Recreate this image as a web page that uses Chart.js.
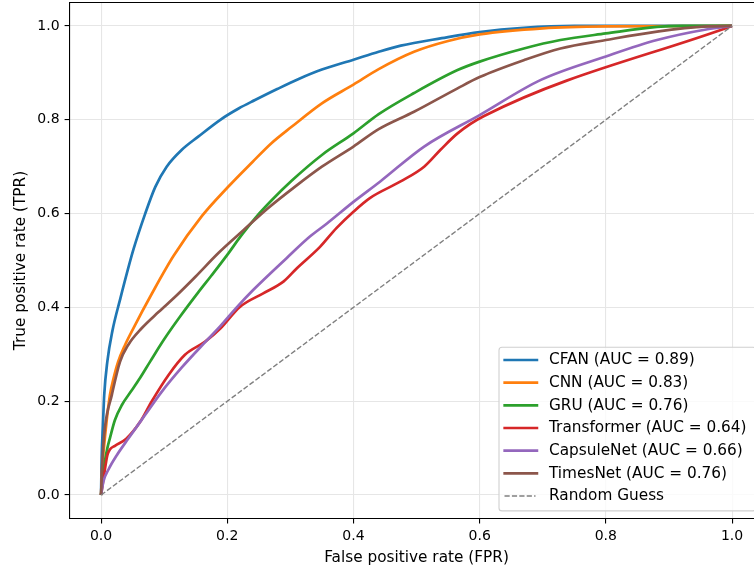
<!DOCTYPE html>
<html>
<head>
<meta charset="utf-8">
<script src="https://cdn.jsdelivr.net/npm/chart.js@4/dist/chart.umd.min.js"></script>
<style>
  html, body { margin: 0; padding: 0; background: #fff; overflow: hidden; }
  #wrap { width: 770px; height: 571px; }
</style>
</head>
<body>
<div id="wrap"><canvas id="roc" width="770" height="571"></canvas></div>
<script>
// ROC curves per model: false positive rate (x) and true positive rate (y)
const modelNames = ['CFAN', 'CNN', 'GRU', 'Transformer', 'CapsuleNet', 'TimesNet'];
const aucValues = [0.89, 0.83, 0.76, 0.64, 0.66, 0.76];
const lineColors = ['#1f77b4', '#ff7f0e', '#2ca02c', '#d62728', '#9467bd', '#8c564b'];

const cfanFpr = [0, 0.001, 0.003, 0.005, 0.01, 0.018, 0.03, 0.051, 0.07, 0.086, 0.104, 0.128, 0.154, 0.189, 0.218, 0.244, 0.28, 0.315, 0.35, 0.4, 0.44, 0.475, 0.54, 0.6, 0.67, 0.75, 1];
const cfanTpr = [0, 0.08, 0.15, 0.213, 0.285, 0.35, 0.416, 0.522, 0.6, 0.657, 0.7, 0.736, 0.764, 0.8, 0.824, 0.842, 0.866, 0.888, 0.907, 0.928, 0.945, 0.958, 0.974, 0.987, 0.996, 1, 1];

const cnnFpr = [0, 0.002, 0.005, 0.009, 0.014, 0.02, 0.027, 0.038, 0.051, 0.08, 0.115, 0.16, 0.2, 0.24, 0.27, 0.302, 0.35, 0.4, 0.44, 0.496, 0.55, 0.6, 0.7, 0.8, 1];
const cnnTpr = [0, 0.06, 0.107, 0.16, 0.213, 0.25, 0.284, 0.32, 0.355, 0.428, 0.51, 0.595, 0.655, 0.71, 0.75, 0.785, 0.835, 0.875, 0.908, 0.945, 0.968, 0.982, 0.995, 0.999, 1];

const gruFpr = [0, 0.003, 0.006, 0.01, 0.014, 0.022, 0.033, 0.047, 0.062, 0.078, 0.1, 0.125, 0.154, 0.175, 0.2, 0.222, 0.244, 0.27, 0.302, 0.35, 0.4, 0.44, 0.496, 0.565, 0.6, 0.67, 0.728, 0.8, 0.881, 0.92, 1];
const gruTpr = [0, 0.04, 0.071, 0.1, 0.121, 0.16, 0.192, 0.22, 0.25, 0.285, 0.332, 0.38, 0.432, 0.468, 0.512, 0.553, 0.59, 0.628, 0.67, 0.725, 0.771, 0.812, 0.857, 0.906, 0.924, 0.952, 0.97, 0.984, 0.998, 1, 1];

const transformerFpr = [0, 0.005, 0.01, 0.014, 0.022, 0.04, 0.062, 0.08, 0.107, 0.133, 0.165, 0.189, 0.22, 0.257, 0.289, 0.31, 0.347, 0.373, 0.4, 0.426, 0.474, 0.512, 0.538, 0.565, 0.607, 1];
const transformerTpr = [0, 0.045, 0.085, 0.097, 0.105, 0.12, 0.156, 0.199, 0.256, 0.299, 0.327, 0.355, 0.401, 0.43, 0.455, 0.483, 0.529, 0.569, 0.604, 0.633, 0.668, 0.7, 0.736, 0.771, 0.808, 1];

const capsuleFpr = [0, 0.004, 0.012, 0.025, 0.043, 0.07, 0.096, 0.128, 0.165, 0.189, 0.215, 0.241, 0.294, 0.331, 0.358, 0.4, 0.442, 0.512, 0.6, 0.697, 0.8, 0.881, 0.961, 1];
const capsuleTpr = [0, 0.03, 0.055, 0.085, 0.12, 0.171, 0.22, 0.272, 0.326, 0.36, 0.4, 0.437, 0.505, 0.551, 0.579, 0.625, 0.668, 0.743, 0.81, 0.885, 0.935, 0.97, 0.993, 1];

const timesnetFpr = [0, 0.002, 0.006, 0.017, 0.03, 0.043, 0.064, 0.091, 0.12, 0.15, 0.186, 0.226, 0.265, 0.307, 0.35, 0.4, 0.44, 0.496, 0.565, 0.6, 0.67, 0.728, 0.8, 0.881, 0.961, 1];
const timesnetTpr = [0, 0.071, 0.142, 0.213, 0.284, 0.32, 0.355, 0.39, 0.426, 0.466, 0.516, 0.565, 0.612, 0.657, 0.7, 0.743, 0.78, 0.817, 0.867, 0.891, 0.927, 0.952, 0.97, 0.988, 0.999, 1];

// Chance diagonal
const guessFpr = [0, 1];
const guessTpr = [0, 1];
const guessLabel = 'Random Guess';

const tickValues = [0, 0.2, 0.4, 0.6, 0.8, 1.0];

const fprSeries = [cfanFpr, cnnFpr, gruFpr, transformerFpr, capsuleFpr, timesnetFpr];
const tprSeries = [cfanTpr, cnnTpr, gruTpr, transformerTpr, capsuleTpr, timesnetTpr];

const toPoints = (xs, ys) => xs.map((x, i) => ({ x, y: ys[i] }));

const datasets = modelNames.map((name, i) => ({
  label: `${name} (AUC = ${aucValues[i].toFixed(2)})`,
  data: toPoints(fprSeries[i], tprSeries[i]),
  borderColor: lineColors[i],
  borderWidth: 2.7,
  borderJoinStyle: 'round',
  pointRadius: 0,
  cubicInterpolationMode: 'monotone',
  fill: false,
  order: modelNames.length - i
}));
datasets.push({
  label: guessLabel,
  data: toPoints(guessFpr, guessTpr),
  borderColor: '#808080',
  borderWidth: 1.4,
  borderDash: [5.2, 2.2],
  pointRadius: 0,
  fill: false,
  order: 0
});

const FONT = 'DejaVu Sans';

// Top spine of the axes frame
const frameTop = {
  id: 'frameTop',
  afterDraw(chart) {
    const { ctx, chartArea: a } = chart;
    ctx.save();
    ctx.strokeStyle = '#000';
    ctx.lineWidth = 1.1;
    ctx.beginPath();
    ctx.moveTo(a.left, a.top);
    ctx.lineTo(a.right, a.top);
    ctx.stroke();
    ctx.restore();
  }
};

// Legend box anchored at the lower right corner of the plot area
const cornerLegend = {
  id: 'cornerLegend',
  afterDraw(chart) {
    const { ctx, chartArea: a } = chart;
    const fontSize = 15.3;
    const rowH = 22.67;
    const pad = 7.6;
    const right = a.right - pad;
    const bottom = a.bottom - pad;
    const left = 499;
    const top = bottom - 163.6;
    ctx.save();
    ctx.beginPath();
    ctx.roundRect(left, top, right - left, bottom - top, 3);
    ctx.fillStyle = 'rgba(255,255,255,0.8)';
    ctx.fill();
    ctx.strokeStyle = '#d0d0d0';
    ctx.lineWidth = 1.1;
    ctx.stroke();
    ctx.font = `${fontSize}px "${FONT}"`;
    ctx.textBaseline = 'middle';
    ctx.textAlign = 'left';
    chart.data.datasets.forEach((ds, i) => {
      const cy = top + 12.7 + i * rowH;
      ctx.beginPath();
      ctx.strokeStyle = ds.borderColor;
      ctx.lineWidth = ds.borderWidth;
      ctx.setLineDash(ds.borderDash || []);
      ctx.lineCap = ds.borderDash ? 'butt' : 'square';
      const x0 = ds.borderDash ? 504.5 : 504.7;
      const x1 = ds.borderDash ? 535.5 : 536.9;
      ctx.moveTo(x0, cy);
      ctx.lineTo(x1, cy);
      ctx.stroke();
      ctx.setLineDash([]);
      ctx.fillStyle = '#000';
      ctx.fillText(ds.label, 549, cy + 0.5);
    });
    ctx.restore();
  }
};

const axisCommon = {
  type: 'linear',
  min: -0.05,
  max: 1.05,
  afterBuildTicks(scale) {
    scale.ticks = tickValues.map(v => ({ value: v }));
  },
  grid: {
    color: '#e6e6e6',
    lineWidth: 1.1,
    drawTicks: true,
    tickLength: 4.9,
    tickColor: '#000',
    tickWidth: 1.1
  },
  border: { display: true, color: '#000', width: 1.1 }
};

new Chart(document.getElementById('roc'), {
  type: 'line',
  data: { datasets },
  options: {
    responsive: false,
    animation: false,
    events: [],
    layout: { autoPadding: false, padding: { left: 0, top: 2.5, right: 6.4, bottom: 0 } },
    plugins: {
      legend: { display: false },
      tooltip: { enabled: false }
    },
    scales: {
      x: {
        ...axisCommon,
        position: 'bottom',
        afterFit(scale) {
          scale.height = 52.5;
          scale.paddingLeft = 0;
          scale.paddingRight = 0;
        },
        ticks: {
          color: '#000',
          font: { family: FONT, size: 14 },
          padding: 4.5,
          maxRotation: 0,
          callback: v => Number(v).toFixed(1)
        },
        title: {
          display: true,
          text: 'False positive rate (FPR)',
          color: '#000',
          font: { family: FONT, size: 15.3 },
          padding: { top: 0, bottom: 3.4 }
        }
      },
      y: {
        ...axisCommon,
        position: 'left',
        afterFit(scale) {
          scale.width = 69.5;
          scale.paddingTop = 0;
          scale.paddingBottom = 0;
        },
        ticks: {
          color: '#000',
          font: { family: FONT, size: 14 },
          padding: 5,
          callback: v => Number(v).toFixed(1)
        },
        title: {
          display: true,
          text: 'True positive rate (TPR)',
          color: '#000',
          font: { family: FONT, size: 15.3 },
          padding: { top: 12.2, bottom: 0 }
        }
      }
    }
  },
  plugins: [frameTop, cornerLegend]
});
</script>
</body>
</html>
